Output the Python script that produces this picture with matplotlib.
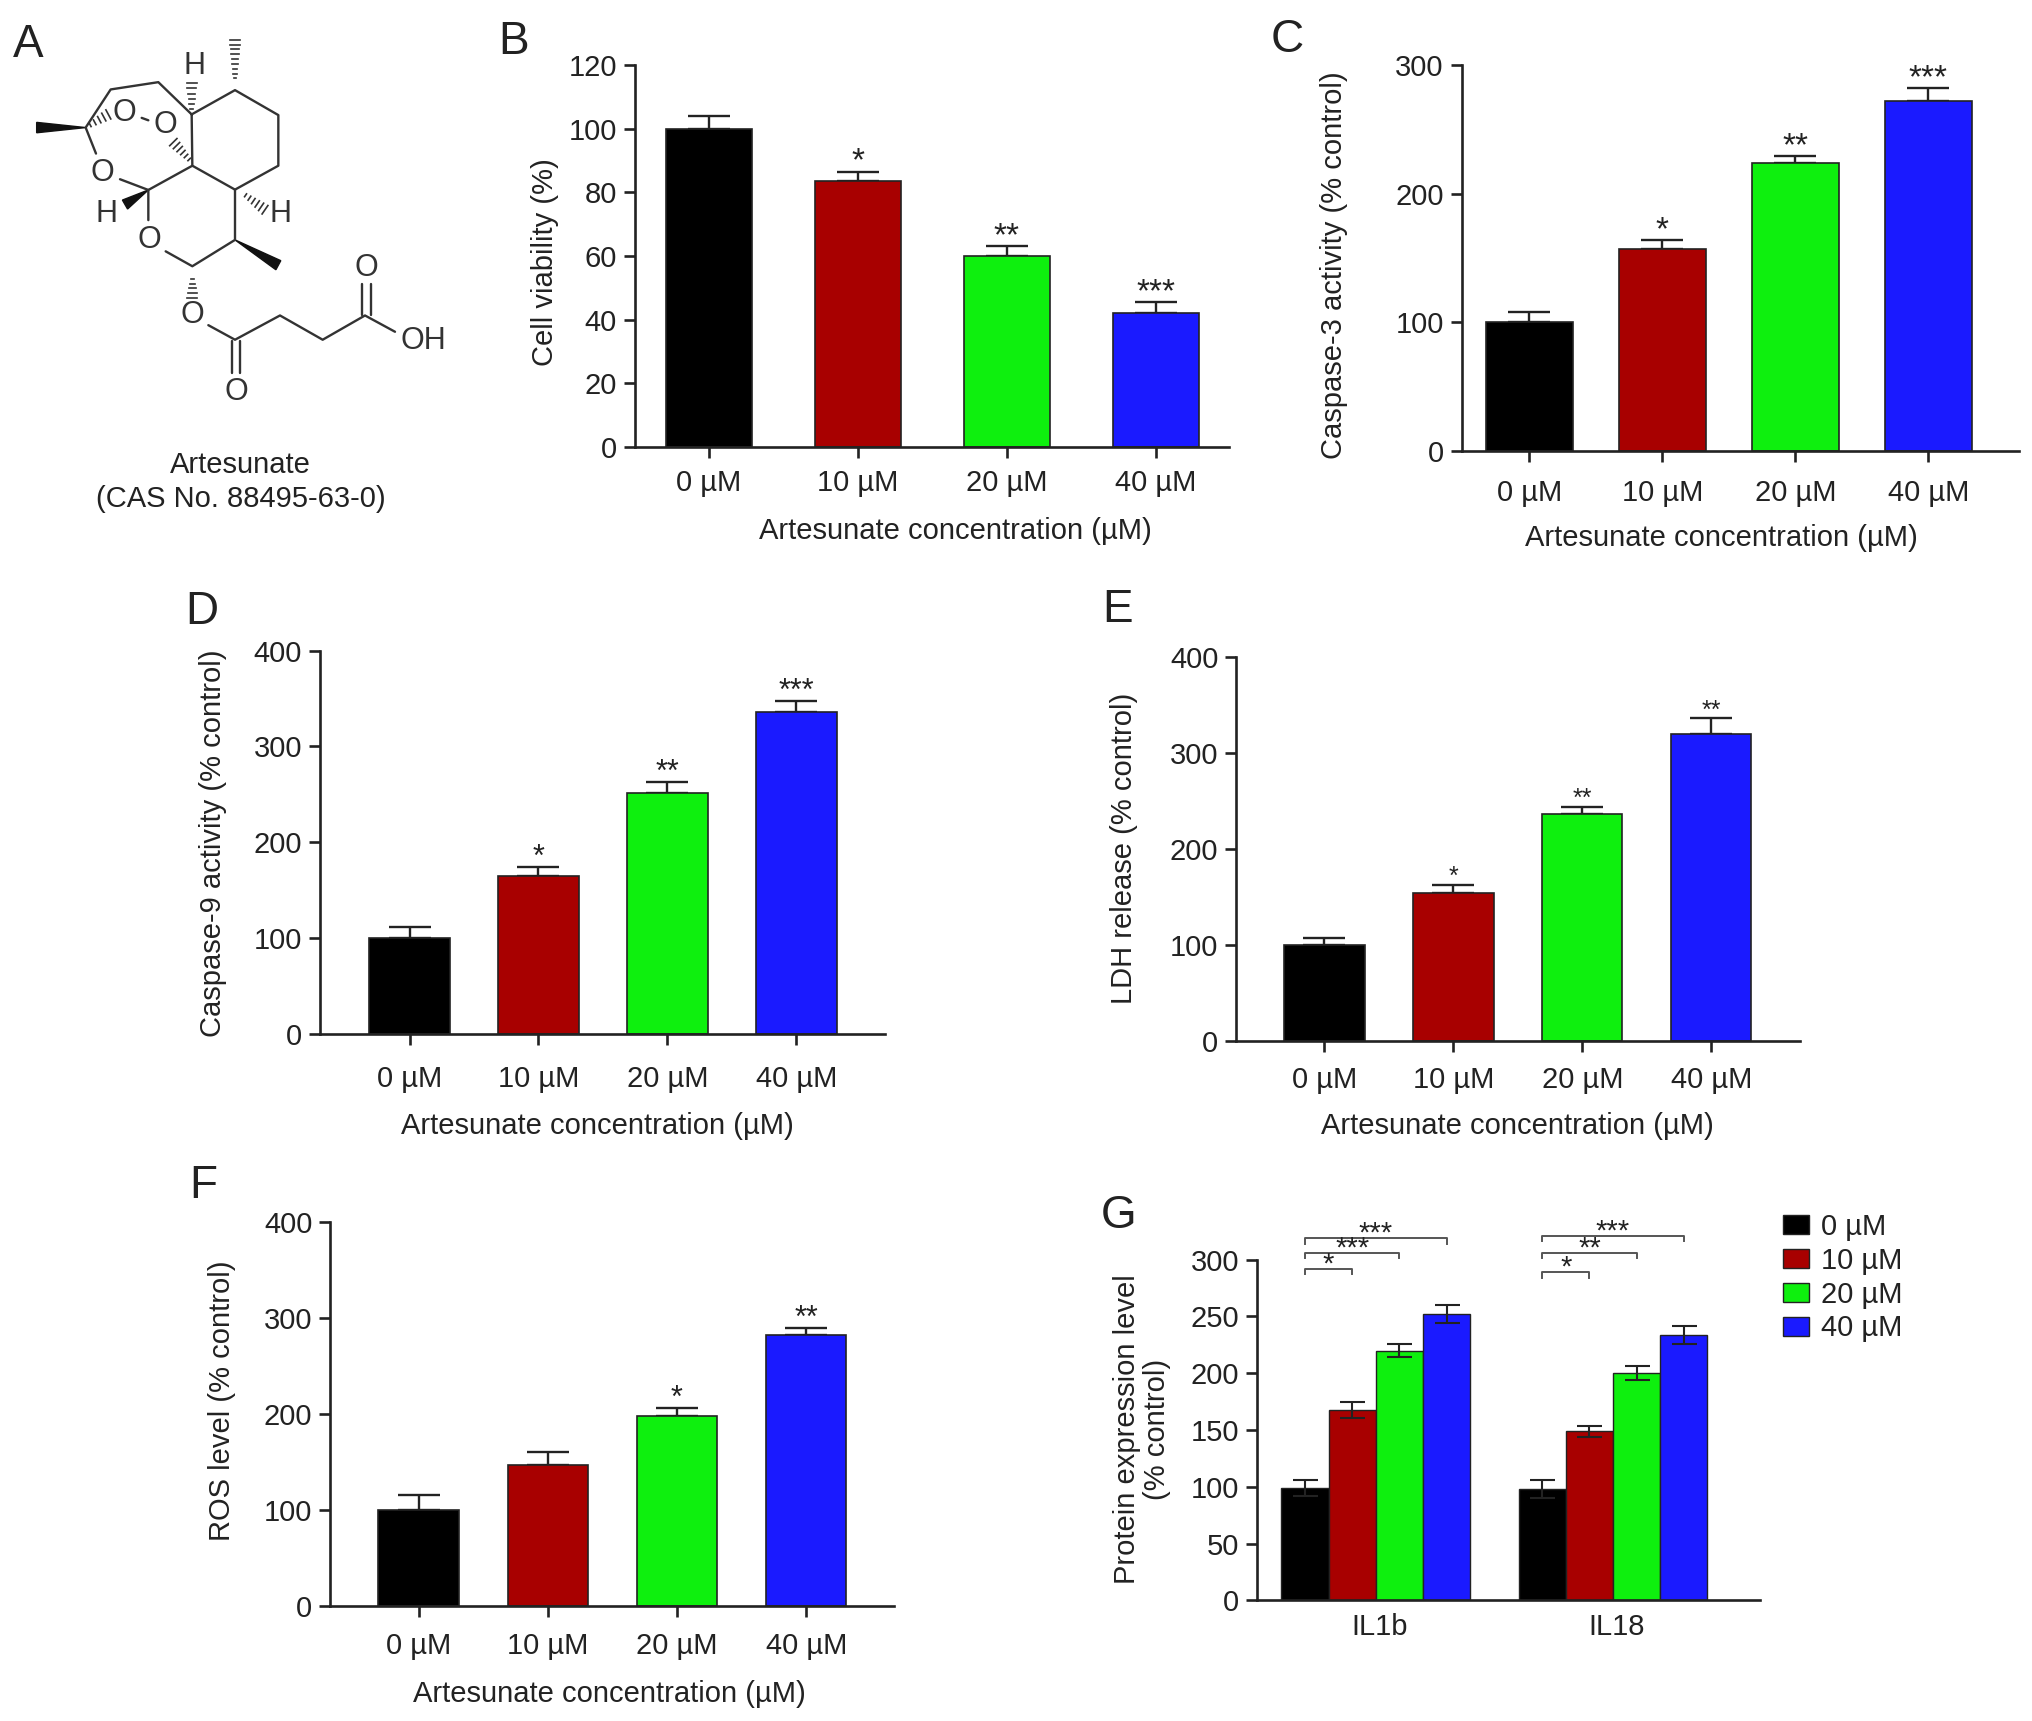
import matplotlib
matplotlib.use("Agg")
import matplotlib.pyplot as plt
from matplotlib.patches import Patch, Polygon

plt.rcParams['font.family'] = ['Liberation Sans', 'DejaVu Sans']
plt.rcParams['text.color'] = '#222222'

W, H = 2032, 1721
S = 2032 / 1568
COLORS = ['#000000', '#a80000', '#0ef00e', '#1a1aff']
EDGE = '#222222'
FONT = 21

doses = ['0 µM', '10 µM', '20 µM', '40 µM']
xlabel = 'Artesunate concentration (µM)'

viability = [100, 83.5, 60, 42]
viability_err = [4, 3, 3, 3.5]
viability_stars = ['', '*', '**', '***']

casp3 = [100, 157, 224, 272]
casp3_err = [8, 7, 5, 10]
casp3_stars = ['', '*', '**', '***']

casp9 = [100, 165, 251, 336]
casp9_err = [12, 9, 12, 11]
casp9_stars = ['', '*', '**', '***']

ldh = [100, 154, 236, 320]
ldh_err = [7, 8, 8, 16]
ldh_stars = ['', '*', '**', '**']

ros = [100, 147, 198, 282]
ros_err = [15, 13, 8, 8]
ros_stars = ['', '', '*', '**']

il1b = [99, 168, 220, 252]
il1b_err = [7, 7, 6, 8]
il18 = [98, 149, 200, 234]
il18_err = [8, 5, 6, 8]
il1b_brackets = [(1, 292, '*'), (2, 306, '***'), (3, 319, '***')]
il18_brackets = [(1, 289, '*'), (2, 306, '**'), (3, 321, '***')]

# left, right, y0, ytop, first bar centre, spacing, bar width (view px)
panels = [
    dict(vals=viability, err=viability_err, stars=viability_stars, ymax=120, step=20,
         box=(490, 948, 345, 50, 547, 115, 66), ylabel='Cell viability (%)', yl=(419, 202),
         xl=(737, 407), star=24, xpad=7.5),
    dict(vals=casp3, err=casp3_err, stars=casp3_stars, ymax=300, step=100,
         box=(1128, 1558, 348, 50, 1180, 102.7, 67), ylabel='Caspase-3 activity (% control)', yl=(1028, 205),
         xl=(1328, 413), star=24, xpad=12),
    dict(vals=casp9, err=casp9_err, stars=casp9_stars, ymax=400, step=100,
         box=(247, 683, 798, 502, 316, 99.5, 62), ylabel='Caspase-9 activity (% control)', yl=(163, 651),
         xl=(461, 866), star=22, xpad=14),
    dict(vals=ldh, err=ldh_err, stars=ldh_stars, ymax=400, step=100,
         box=(954, 1389, 803, 507, 1022, 99.5, 62), ylabel='LDH release (% control)', yl=(866, 655),
         xl=(1171, 866), star=18, xpad=10),
    dict(vals=ros, err=ros_err, stars=ros_stars, ymax=400, step=100,
         box=(255, 690, 1239, 943, 323, 99.7, 62), ylabel='ROS level (% control)', yl=(170, 1081),
         xl=(470, 1305), star=22, xpad=11),
]

letters = [('A', 22, 32), ('B', 396, 30), ('C', 993, 28), ('D', 156, 470),
           ('E', 862, 468), ('F', 157, 913), ('G', 863, 936)]

# structure of panel A, in px of a 3x crop of the top left corner
ring_bonds = [
    [(575, 330), (705, 260), (835, 332), (835, 478), (705, 547), (577, 478), (575, 330)],
    [(577, 478), (445, 548), (445, 635)],
    [(705, 547), (705, 692), (577, 768), (497, 725)],
    [(445, 548), (360, 517)],
    [(288, 443), (257, 368), (332, 258), (475, 237), (575, 330)],
    [(425, 340), (445, 347)],
    [(625, 938), (705, 980), (840, 910), (968, 980), (1095, 910), (1185, 957)],
    [(695, 985), (695, 1075)],
    [(720, 985), (720, 1075)],
    [(1087, 910), (1087, 820)],
    [(1112, 910), (1112, 820)],
]
wedges = [((257, 368), (110, 368)), ((445, 548), (375, 590)), ((705, 692), (835, 765))]
hashes = [((257, 368), (325, 330)), ((577, 470), (520, 410)), ((575, 330), (575, 240)),
          ((705, 240), (705, 115)), ((725, 555), (795, 605)), ((577, 790), (577, 860))]
atoms = [('O', 372, 325), ('O', 497, 362), ('O', 308, 500), ('O', 447, 693), ('O', 577, 908),
         ('O', 708, 1130), ('O', 1100, 772), ('OH', 1270, 985), ('H', 585, 190),
         ('H', 843, 617), ('H', 320, 617)]


def add_axes(fig, left, right, y0, top):
    l, r, b, t = left * S, right * S, y0 * S, top * S
    return fig.add_axes([l / W, 1 - b / H, (r - l) / W, (b - t) / H])


def style_axes(ax, xpad):
    for side in ['top', 'right']:
        ax.spines[side].set_visible(False)
    for side in ['left', 'bottom']:
        ax.spines[side].set_linewidth(1.9)
        ax.spines[side].set_color(EDGE)
    ax.tick_params(axis='both', length=8, width=1.9, color=EDGE, labelcolor='#222222',
                   labelsize=FONT)
    ax.tick_params(axis='y', pad=5)
    ax.tick_params(axis='x', pad=xpad)


def put_stars(ax, x, y, txt, size):
    ax.annotate(txt, (x, y), xytext=(0, 0.7), textcoords='offset points', ha='center',
                va='baseline', fontsize=size, annotation_clip=False)


def plot_panel(fig, p):
    left, right, y0, top, first, gap, bw = p['box']
    ax = add_axes(fig, left, right, y0, top)
    xs = list(range(4))
    ax.bar(xs, p['vals'], width=bw / gap, color=COLORS, edgecolor=EDGE, linewidth=1.2, zorder=2)
    ax.errorbar(xs, p['vals'], yerr=[[0] * 4, p['err']], fmt='none', ecolor=EDGE,
                elinewidth=1.7, capsize=15, capthick=1.7, zorder=1)
    ax.set_xlim((left - first) / gap, (right - first) / gap)
    ax.set_ylim(0, p['ymax'])
    ax.set_xticks(xs)
    ax.set_xticklabels(doses)
    ax.set_yticks(range(0, p['ymax'] + 1, p['step']))
    style_axes(ax, p['xpad'])
    for x, v, e, s in zip(xs, p['vals'], p['err'], p['stars']):
        if s:
            put_stars(ax, x, v + e, s, p['star'])
    fig.text(p['xl'][0] * S / W, 1 - (p['xl'][1] + 2.5) * S / H, xlabel, ha='center', va='center',
             fontsize=FONT)
    fig.text((p['yl'][0] + 1.5) * S / W, 1 - p['yl'][1] * S / H, p['ylabel'], ha='center', va='center',
             rotation=90, fontsize=FONT)


def plot_grouped(fig):
    left, right, y0, top = 970, 1358, 1235, 972
    first, gap, group_step = 1007, 36.4, 5.03
    ax = add_axes(fig, left, right, y0, top)
    for g, (vals, errs, brackets) in enumerate([(il1b, il1b_err, il1b_brackets),
                                                (il18, il18_err, il18_brackets)]):
        xs = [g * group_step + i for i in range(4)]
        ax.bar(xs, vals, width=1.0, color=COLORS, edgecolor=EDGE, linewidth=1.0, zorder=1)
        ax.errorbar(xs, vals, yerr=errs, fmt='none', ecolor=EDGE, elinewidth=1.5,
                    capsize=9, capthick=1.5, zorder=3)
        for end, level, txt in brackets:
            x0, x1 = xs[0], xs[end]
            ax.plot([x0, x0, x1, x1], [level - 5, level, level, level - 5], color='#555555',
                    lw=1.4, clip_on=False)
            put_stars(ax, (x0 + x1) / 2, level - 4, txt, 21)
    ax.set_xlim((left - first) / gap, (right - first) / gap)
    ax.set_ylim(0, 300)
    ax.set_yticks(range(0, 301, 50))
    ax.set_xticks([1.58, 1.58 + group_step])
    ax.set_xticklabels(['IL1b', 'IL18'])
    style_axes(ax, 9)
    ax.tick_params(axis='x', length=0)
    fig.text(881 * S / W, 1 - 1103 * S / H, 'Protein expression level\n(% control)', ha='center',
             va='center', rotation=90, fontsize=FONT, linespacing=1.1, multialignment='center')
    handles = [Patch(facecolor=c, edgecolor=EDGE, linewidth=1) for c in COLORS]
    fig.legend(handles, doses, loc='upper left', frameon=False, fontsize=FONT, borderpad=0,
               borderaxespad=0, bbox_to_anchor=(1376 * S / W, 1 - 936 * S / H), handlelength=0.9,
               handleheight=0.62, handletextpad=0.4, labelspacing=0.2)


def draw_structure(fig):
    ov = fig.add_axes([0, 0, 1, 1], zorder=5)
    ov.set_xlim(0, W * 3)
    ov.set_ylim(H * 3 / 1.04, 0)  # crop was read slightly squashed in height
    ov.axis('off')
    ov.patch.set_alpha(0)
    for chain in ring_bonds:
        ov.plot([c[0] for c in chain], [c[1] for c in chain], color='#333333', lw=1.7,
                solid_capstyle='round')
    for (x0, y0), (x1, y1) in wedges:
        dx, dy = x1 - x0, y1 - y0
        n = (dx ** 2 + dy ** 2) ** 0.5
        nx, ny = -dy / n * 15, dx / n * 15
        ov.add_patch(Polygon([(x0, y0), (x1 + nx, y1 + ny), (x1 - nx, y1 - ny)], color='#111111'))
    for (x0, y0), (x1, y1) in hashes:
        dx, dy = x1 - x0, y1 - y0
        n = (dx ** 2 + dy ** 2) ** 0.5
        nx, ny = -dy / n, dx / n
        count = int(n / 13)
        for i in range(1, count + 1):
            t = i / count
            half = 3 + 12 * t
            cx, cy = x0 + dx * t, y0 + dy * t
            ov.plot([cx - nx * half, cx + nx * half], [cy - ny * half, cy + ny * half],
                    color='#333333', lw=1.2)
    for txt, x, y in atoms:
        ov.text(x, y, txt, ha='center', va='center', fontsize=22, color='#333333')
    ov.text(722, 1340, 'Artesunate', ha='center', va='center', fontsize=FONT)
    ov.text(722, 1440, '(CAS No. 88495-63-0)', ha='center', va='center', fontsize=FONT)


def main():
    fig = plt.figure(figsize=(W / 100, H / 100), dpi=100)
    for p in panels:
        plot_panel(fig, p)
    plot_grouped(fig)
    draw_structure(fig)
    for name, x, y in letters:
        fig.text(x * S / W, 1 - (y + 2.5) * S / H, name, ha='center', va='center', fontsize=33)
    fig.savefig('out.png', dpi=100)
    plt.close(fig)


if __name__ == "__main__":
    main()
